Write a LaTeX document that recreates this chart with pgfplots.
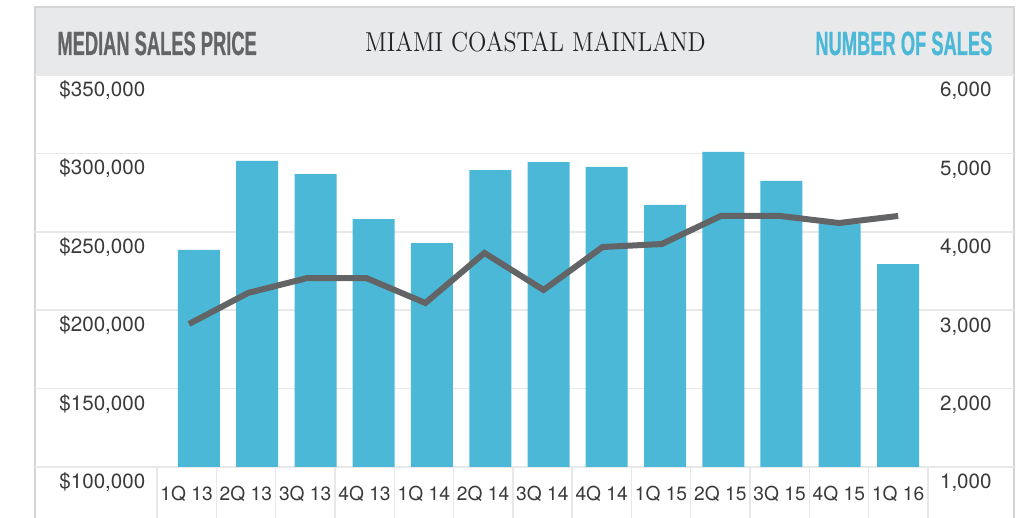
\documentclass[border=0pt]{standalone}
\usepackage{pgfplots}
\pgfplotsset{compat=1.18}
\usepackage{fontspec}
\setmainfont{TeX Gyre Heros}
\newfontfamily\condfont[FakeStretch=0.545,FakeBold=0.6]{Liberation Sans}
\newfontfamily\serifcaps[FakeStretch=0.88]{Latin Modern Roman}
\definecolor{barblue}{HTML}{4AB8D6}
\definecolor{linegray}{HTML}{636466}
\definecolor{headgray}{HTML}{E8E9EB}
\definecolor{gridgray}{HTML}{E8E8E8}
\definecolor{framegray}{HTML}{D4D4D4}
\definecolor{labelgray}{HTML}{3A3A3A}
\definecolor{titlegray}{HTML}{636466}
\definecolor{titleblack}{HTML}{222222}
\begin{document}
\begin{tikzpicture}
\path[use as bounding box] (0,0) rectangle (517.5pt,259pt);
% header band and frame
\fill[headgray] (17.5pt,221.5pt) rectangle (507pt,255.5pt);
\draw[framegray, line width=0.7pt] (17.5pt,0pt) -- (17.5pt,255.5pt) -- (507pt,255.5pt) -- (507pt,0pt);
% bottom cell separators
\foreach \k in {0,...,13} {
  \pgfmathsetmacro\xx{78.5+29.65*\k}
  \draw[gridgray, line width=0.7pt] (\xx pt,0pt) -- (\xx pt,25.5pt);
}
% bars: number of sales (right axis)
\begin{axis}[
  at={(17.5pt,25.5pt)}, anchor=south west,
  width=489.5pt, height=196pt, scale only axis,
  xmin=-2.5565, xmax=13.953,
  ymin=1000, ymax=6000,
  ytick={1000,2000,3000,4000,5000,6000},
  yticklabels={{1,000},{2,000},{3,000},{4,000},{5,000},{6,000}},
  yticklabel pos=right,
  yticklabel style={anchor=base east, inner sep=0pt, xshift=-11pt, yshift=-11pt,
    font=\fontsize{10.3}{12}\selectfont, text=labelgray},
  xtick={0,1,2,3,4,5,6,7,8,9,10,11,12},
  xticklabels={1Q 13,2Q 13,3Q 13,4Q 13,1Q 14,2Q 14,3Q 14,4Q 14,1Q 15,2Q 15,3Q 15,4Q 15,1Q 16},
  xticklabel style={anchor=base, inner sep=0pt, yshift=-17pt,
    font=\fontsize{9.6}{12}\selectfont, text=labelgray},
  ymajorgrids, grid style={gridgray, line width=0.8pt},
  axis line style={draw=none}, major tick length=0pt,
  scaled y ticks=false,
]
\addplot[ybar, bar width=21pt, bar shift=0pt, fill=barblue, draw=none] coordinates {
  (0.209,3768) (1.191,4903) (2.174,4737) (3.156,4163) (4.138,3857) (5.121,4788)
  (6.103,4890) (7.085,4827) (8.068,4342) (9.050,5018) (10.032,4648) (11.014,4100)
  (11.997,3589)
};
\end{axis}
% line: median sales price (left axis)
\begin{axis}[
  at={(17.5pt,25.5pt)}, anchor=south west,
  width=489.5pt, height=196pt, scale only axis,
  xmin=-2.5565, xmax=13.953,
  ymin=100000, ymax=350000,
  ytick={100000,150000,200000,250000,300000,350000},
  yticklabels={{\$100,000},{\$150,000},{\$200,000},{\$250,000},{\$300,000},{\$350,000}},
  yticklabel style={anchor=base west, inner sep=0pt, xshift=12pt, yshift=-10.8pt,
    font=\fontsize{10.3}{12}\selectfont, text=labelgray},
  xtick=\empty,
  axis line style={draw=none}, major tick length=0pt,
  scaled y ticks=false,
]
\addplot[line width=3pt, linegray, line join=miter, mark=none] coordinates {
  (0.040,191200) (1.037,211000) (2.033,220500) (3.030,220500) (4.027,204600)
  (5.023,236500) (6.020,212900) (7.016,240300) (8.013,242200) (9.010,260100)
  (10.006,260100) (11.003,255600) (12.000,260100)
};
\end{axis}
% header texts
\node[anchor=base west, inner sep=0pt, text=titlegray] at (28.5pt,231.5pt)
  {\condfont\bfseries\fontsize{16.8}{17}\selectfont MEDIAN SALES PRICE};
\node[anchor=base east, inner sep=0pt, text=barblue] at (496.4pt,231.5pt)
  {\condfont\bfseries\fontsize{16.8}{17}\selectfont NUMBER OF SALES};
\node[anchor=base, inner sep=0pt, text=titleblack] at (267.75pt,233.2pt)
  {\serifcaps\fontsize{13.7}{14}\selectfont MIAMI COASTAL MAINLAND};
\end{tikzpicture}
\end{document}
